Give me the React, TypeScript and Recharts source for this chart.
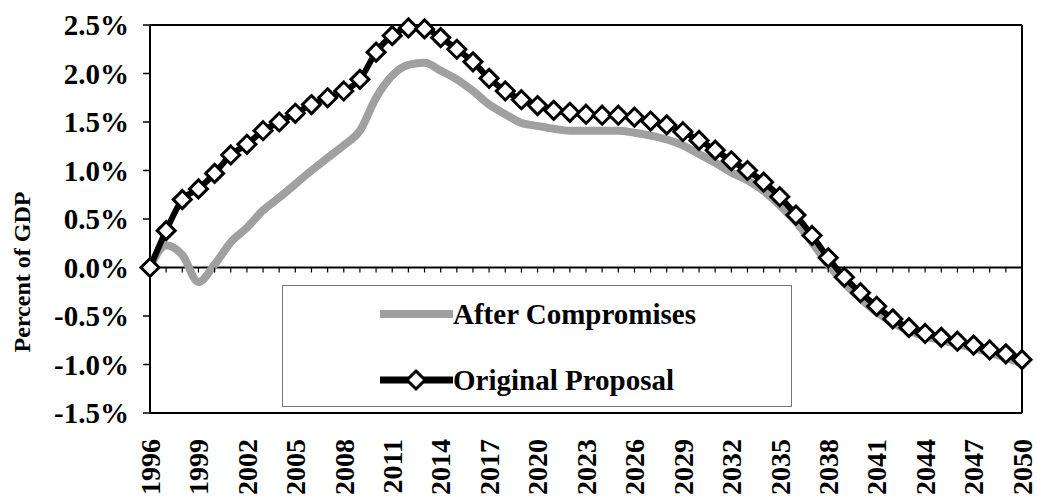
import React from "react";
import { ComposedChart, Line, XAxis, YAxis, ReferenceLine } from "recharts";

const years = [
  1996, 1997, 1998, 1999, 2000, 2001, 2002, 2003, 2004, 2005, 2006, 2007, 2008, 2009,
  2010, 2011, 2012, 2013, 2014, 2015, 2016, 2017, 2018, 2019, 2020, 2021, 2022, 2023,
  2024, 2025, 2026, 2027, 2028, 2029, 2030, 2031, 2032, 2033, 2034, 2035, 2036, 2037,
  2038, 2039, 2040, 2041, 2042, 2043, 2044, 2045, 2046, 2047, 2048, 2049, 2050,
];

const afterCompromises = [
  0, 0.23, 0.13, -0.15, 0.03, 0.26, 0.41, 0.59, 0.72, 0.86, 1.0, 1.13, 1.26, 1.41,
  1.75, 1.98, 2.09, 2.11, 2.03, 1.94, 1.82, 1.68, 1.58, 1.49, 1.46, 1.43, 1.41, 1.41,
  1.41, 1.41, 1.39, 1.36, 1.32, 1.26, 1.17, 1.08, 0.98, 0.9, 0.79, 0.64, 0.47, 0.26,
  0.03, -0.16, -0.32, -0.46, -0.57, -0.65, -0.71, -0.75, -0.79, -0.83, -0.88, -0.93, -0.99,
];

const originalProposal = [
  0, 0.38, 0.7, 0.81, 0.97, 1.16, 1.27, 1.41, 1.5, 1.59, 1.68, 1.75, 1.82, 1.94,
  2.22, 2.39, 2.47, 2.46, 2.37, 2.25, 2.12, 1.95, 1.82, 1.73, 1.67, 1.62, 1.6, 1.58,
  1.57, 1.57, 1.55, 1.51, 1.47, 1.4, 1.31, 1.21, 1.1, 1.0, 0.88, 0.73, 0.54, 0.33,
  0.1, -0.1, -0.26, -0.4, -0.53, -0.62, -0.68, -0.72, -0.76, -0.8, -0.85, -0.89, -0.95,
];

const yearTicks = [
  1996, 1999, 2002, 2005, 2008, 2011, 2014, 2017, 2020, 2023, 2026, 2029, 2032, 2035,
  2038, 2041, 2044, 2047, 2050,
];
const pctTicks = [-1.5, -1.0, -0.5, 0, 0.5, 1.0, 1.5, 2.0, 2.5];

const data = years.map((year, i) => ({
  year,
  after: afterCompromises[i],
  original: originalProposal[i],
}));

const FONT = '"Liberation Serif", "Times New Roman", serif';
const GRAY = "#a0a0a0";

const Diamond = (props: any) => {
  const { cx, cy } = props;
  if (cx == null || cy == null) return null;
  const r = 9;
  return (
    <polygon
      points={`${cx},${cy - r} ${cx + r},${cy} ${cx},${cy + r} ${cx - r},${cy}`}
      fill="#fff"
      stroke="#000"
      strokeWidth={3}
    />
  );
};

// small tick marks hanging off the zero line, one per year
const ZeroTick = (props: any) => {
  const { cx, cy } = props;
  if (cx == null || cy == null) return null;
  return <line x1={cx} x2={cx} y1={cy} y2={cy + 5} stroke="#000" strokeWidth={1.2} />;
};

const YearTick = (props: any) => {
  const { x, y, payload } = props;
  const ty = y + 18;
  return (
    <text
      x={x}
      y={ty}
      dy="0.35em"
      transform={`rotate(-90, ${x}, ${ty})`}
      textAnchor="end"
      fontFamily={FONT}
      fontWeight="bold"
      fontSize={28}
      fill="#000"
    >
      {payload.value}
    </text>
  );
};

const LegendBox = () => (
  <div
    style={{
      position: "absolute",
      left: 282,
      top: 285,
      width: 510,
      height: 122,
      border: "1px solid #777",
      boxSizing: "border-box",
      fontFamily: FONT,
      fontWeight: "bold",
      fontSize: 29,
      color: "#000",
    }}
  >
    {[
      { name: "After Compromises", original: false, top: 8 },
      { name: "Original Proposal", original: true, top: 74 },
    ].map((item) => (
      <div
        key={item.name}
        style={{ position: "absolute", left: 97, top: item.top, display: "flex", alignItems: "center", lineHeight: "40px" }}
      >
        <svg width={73} height={40} style={{ display: "block" }}>
          {item.original ? (
            <>
              <line x1={0} x2={73} y1={20} y2={20} stroke="#000" strokeWidth={7} />
              <Diamond cx={36} cy={20} />
            </>
          ) : (
            <line x1={0} x2={73} y1={20} y2={20} stroke={GRAY} strokeWidth={8} />
          )}
        </svg>
        <span>{item.name}</span>
      </div>
    ))}
  </div>
);

export default function App() {
  return (
    <div style={{ position: "absolute", left: 0, top: 0, width: 1037, height: 496, background: "#fff" }}>
      <ComposedChart
        width={1037}
        height={496}
        data={data}
        margin={{ top: 25, right: 15, left: 0, bottom: 0 }}
      >
        <XAxis
          dataKey="year"
          type="number"
          domain={[1996, 2050]}
          ticks={yearTicks}
          interval={0}
          height={83}
          tick={<YearTick />}
          tickLine={false}
          axisLine={{ stroke: "#000", strokeWidth: 2 }}
        />
        <YAxis
          type="number"
          domain={[-1.5, 2.5]}
          ticks={pctTicks}
          interval={0}
          width={150}
          tickSize={7}
          tickMargin={14}
          tickFormatter={(v: number) => `${v.toFixed(1)}%`}
          tick={{ fontFamily: FONT, fontWeight: "bold", fontSize: 29, fill: "#000" }}
          tickLine={{ stroke: "#000", strokeWidth: 1.5 }}
          axisLine={{ stroke: "#000", strokeWidth: 2 }}
          label={{
            content: () => (
              <text
                x={22}
                y={272}
                transform="rotate(-90, 22, 272)"
                textAnchor="middle"
                dominantBaseline="central"
                fontFamily={FONT}
                fontWeight="bold"
                fontSize={24}
                fill="#000"
              >
                Percent of GDP
              </text>
            ),
          }}
        />
        <ReferenceLine y={2.5} stroke="#000" strokeWidth={2} />
        <ReferenceLine x={2050} stroke="#000" strokeWidth={2} />
        <Line
          dataKey={() => 0}
          stroke="#000"
          strokeWidth={2}
          dot={<ZeroTick />}
          activeDot={false}
          legendType="none"
          isAnimationActive={false}
        />
        <Line
          type="monotone"
          dataKey="after"
          name="After Compromises"
          stroke={GRAY}
          strokeWidth={8}
          dot={false}
          activeDot={false}
          isAnimationActive={false}
        />
        <Line
          type="monotone"
          dataKey="original"
          name="Original Proposal"
          stroke="#000"
          strokeWidth={6}
          dot={<Diamond />}
          activeDot={false}
          isAnimationActive={false}
        />
      </ComposedChart>
      <LegendBox />
    </div>
  );
}
